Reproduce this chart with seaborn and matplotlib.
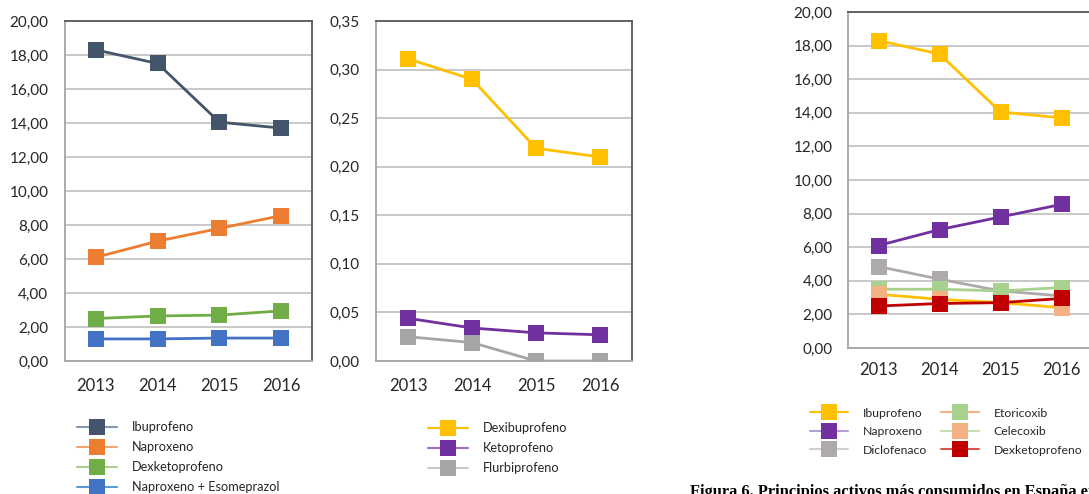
import numpy as np
import matplotlib.pyplot as plt
from matplotlib.lines import Line2D
from matplotlib.ticker import FuncFormatter
import seaborn as sns

years = ['2013', '2014', '2015', '2016']

# panel 1 (DHD)
ibuprofeno = [18.3, 17.5, 14.05, 13.7]
naproxeno = [6.1, 7.05, 7.8, 8.55]
dexketoprofeno = [2.5, 2.65, 2.7, 2.95]
naproxeno_esomeprazol = [1.3, 1.3, 1.35, 1.35]

# panel 2
dexibuprofeno = [0.311, 0.29, 0.219, 0.21]
ketoprofeno = [0.044, 0.034, 0.029, 0.027]
flurbiprofeno = [0.025, 0.019, 0.0, 0.0]

# panel 3 (extra series)
diclofenaco = [4.85, 4.1, 3.4, 3.1]
etoricoxib = [3.5, 3.5, 3.4, 3.6]
celecoxib = [3.2, 2.9, 2.7, 2.4]

caption = "Figura 6. Principios activos más consumidos en España en"

sns.set_style("white")
plt.rcParams['font.family'] = ['Lato', 'DejaVu Sans']

TXT = '#262626'


def comma(v, pos, nd):
    return f"{v:.{nd}f}".replace('.', ',')


def draw(ax, series, ymax, step, nd, ysize, ypad, xsize, xpad):
    x = np.arange(len(years))
    for label, vals, lc, mc, _ in series:
        sns.lineplot(x=x, y=vals, ax=ax, color=lc, marker='s', markersize=11,
                     markerfacecolor=mc, markeredgecolor=mc, markeredgewidth=0,
                     linewidth=2, legend=False)
    ax.set_xlim(-0.5, len(years) - 0.5)
    ax.set_ylim(0, ymax)
    ax.set_yticks(np.arange(0, ymax + step / 2, step))
    ax.yaxis.set_major_formatter(FuncFormatter(lambda v, p: comma(v, p, nd)))
    ax.set_xticks(np.arange(len(years) + 1) - 0.5)
    ax.set_xticklabels([])
    ax.set_xticks(x, minor=True)
    ax.set_xticklabels(years, minor=True)
    ax.tick_params(axis='x', which='major', length=5, width=1.2, color='#A6A6A6', direction='out')
    ax.tick_params(axis='x', which='minor', length=0, pad=xpad, labelsize=xsize, labelcolor=TXT)
    ax.tick_params(axis='y', length=5, width=1.2, color='#A6A6A6', direction='out',
                   pad=ypad, labelsize=ysize, labelcolor=TXT)
    ax.grid(axis='y', color='#BFBFBF', linewidth=1.2)
    ax.set_axisbelow(True)
    ax.set_xlabel('')
    ax.set_ylabel('')
    for s in ['left', 'bottom']:
        ax.spines[s].set_color('#A6A6A6')
        ax.spines[s].set_linewidth(1.3)
    for s in ['top', 'right']:
        ax.spines[s].set_color('#595959')
        ax.spines[s].set_linewidth(1.3)


def handles(series):
    return [Line2D([], [], color=lgc, linewidth=1.5, marker='s', markersize=12,
                   markerfacecolor=mc, markeredgecolor=mc, markeredgewidth=0)
            for _, _, _, mc, lgc in series]


s1 = [
    ('Ibuprofeno', ibuprofeno, '#44546A', '#44546A', '#8497B0'),
    ('Naproxeno', naproxeno, '#ED7D31', '#ED7D31', '#F4A46E'),
    ('Dexketoprofeno', dexketoprofeno, '#70AD47', '#70AD47', '#A9D18E'),
    ('Naproxeno + Esomeprazol', naproxeno_esomeprazol, '#4472C4', '#4472C4', '#5B9BD5'),
]
s2 = [
    ('Dexibuprofeno', dexibuprofeno, '#FFC000', '#FFC000', '#FFC000'),
    ('Ketoprofeno', ketoprofeno, '#7030A0', '#7030A0', '#9E6BC5'),
    ('Flurbiprofeno', flurbiprofeno, '#A5A5A5', '#A5A5A5', '#C9C9C9'),
]
s3 = [
    ('Ibuprofeno', ibuprofeno, '#FFC000', '#FFC000', '#FFC000'),
    ('Naproxeno', naproxeno, '#7030A0', '#7030A0', '#B4A0D0'),
    ('Diclofenaco', diclofenaco, '#AEAAAA', '#AEAAAA', '#D0CECE'),
    ('Etoricoxib', etoricoxib, '#A9D18E', '#A9D18E', '#F4B183'),
    ('Celecoxib', celecoxib, '#FFC000', '#F4B183', '#C5E0B4'),
    ('Dexketoprofeno', dexketoprofeno, '#C00000', '#C00000', '#D9534F'),
]

fig = plt.figure(figsize=(10.89, 4.94), dpi=100)
ax1 = fig.add_axes([0.0597, 0.2692, 0.2268, 0.6883])
ax2 = fig.add_axes([0.3453, 0.2692, 0.2351, 0.6883])
ax3 = fig.add_axes([0.7787, 0.2955, 0.2241, 0.6802])

draw(ax1, s1, 20, 2, 2, 11, 7, 12, 12)
draw(ax2, s2, 0.35, 0.05, 2, 11, 7, 12, 12)
draw(ax3, s3, 20, 2, 2, 11, 6, 12, 10)

leg_kw = dict(frameon=False, handlelength=3.1, handletextpad=1.2,
              labelspacing=0.62, borderpad=0, borderaxespad=0, labelcolor=TXT)
fig.legend(handles(s1), [s[0] for s in s1], loc='upper left', fontsize=9.2,
           bbox_to_anchor=(0.071, 0.147), **leg_kw)
fig.legend(handles(s2), [s[0] for s in s2], loc='upper left', fontsize=9.2,
           bbox_to_anchor=(0.393, 0.145), **leg_kw)
fig.legend(handles(s3), [s[0] for s in s3], loc='upper left', fontsize=8.8,
           bbox_to_anchor=(0.744, 0.175), ncol=2, columnspacing=1.15, **leg_kw)

fig.text(0.634, -0.004, caption, fontsize=11.8, fontweight='bold',
         family=['Liberation Serif', 'DejaVu Serif'], color='black', va='baseline')

fig.savefig('out.png', dpi=100)
